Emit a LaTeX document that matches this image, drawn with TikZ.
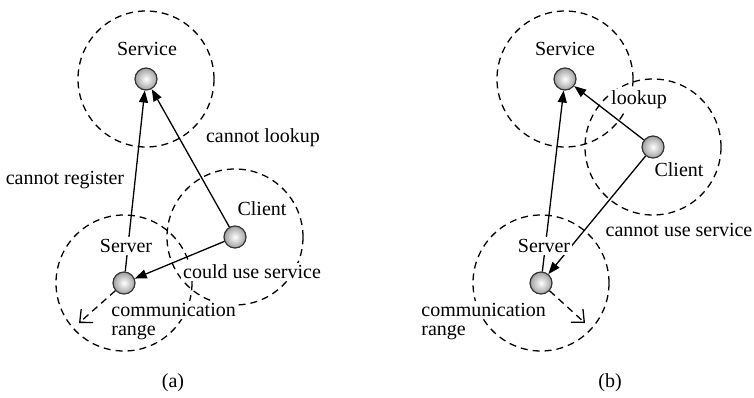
\documentclass[tikz,border=0pt]{standalone}
\usepackage{fontspec}
\setmainfont{Liberation Serif}
\usetikzlibrary{arrows.meta,shapes}

\tikzset{
	host/.style={circle,minimum size=11pt,inner sep=0pt,draw=black!80,line width=0.6pt,shading=radial,inner color=white,outer color=gray!75},
	reach/.style={dash pattern=on 3.5pt off 2.5pt,line width=0.65pt},
	msg/.style={line width=0.65pt,-{Triangle[length=6pt,width=4.5pt]}},
	lbl/.style={fill=white,inner sep=1pt,font=\fontsize{10}{11.5}\selectfont},
}

\begin{document}
\begin{tikzpicture}[x=0.5pt,y=-0.5pt]
			\useasboundingbox (0,0) rectangle (754,397);
			% (a) server out of range of the service
			\coordinate (svcA) at (146,79);
			\coordinate (srvA) at (124,283);
			\coordinate (cliA) at (235,237);
			\coordinate (endA) at (79,323);
			\draw[reach] (svcA) circle[radius=34pt];
			\draw[reach] (srvA) circle[radius=34pt];
			\draw[reach] (cliA) circle[radius=34pt];
			\node[host] (svcNodeA) at (svcA) {};
			\node[host] (srvNodeA) at (srvA) {};
			\node[host] (cliNodeA) at (cliA) {};
			\draw[msg] (srvNodeA) -- (svcNodeA);
			\draw[msg] (cliNodeA) -- (svcNodeA);
			\draw[msg] (cliNodeA) -- (srvNodeA);
			\draw[reach,-{Straight Barb[length=5pt,width=9pt]}] (srvNodeA) -- (endA);
			\node[lbl] (svcLblA) at (147,49) {Service};
			\node[lbl] (srvLblA) at (126,246) {Server};
			\node[lbl] (cliLblA) at (262,209) {Client};
			\node[lbl] (lookA) at (263,138) {cannot lookup};
			\node[lbl] (regA) at (65,180) {cannot register};
			\node[lbl] (useA) at (252,272) {could use service};
			\node[lbl,anchor=west] (rngA) at (109,310) {communication};
			\node[lbl,anchor=west] (rngA2) at (109,333) {range};
			\node[lbl] (capA) at (173,383) {(a)};

			% (b) client out of range of the server
			\coordinate (svcB) at (565,79);
			\coordinate (srvB) at (541,283);
			\coordinate (cliB) at (653,147);
			\coordinate (endB) at (585,323);
			\draw[reach] (svcB) circle[radius=34pt];
			\draw[reach] (srvB) circle[radius=34pt];
			\draw[reach] (cliB) circle[radius=34pt];
			\node[host] (svcNodeB) at (svcB) {};
			\node[host] (srvNodeB) at (srvB) {};
			\node[host] (cliNodeB) at (cliB) {};
			\draw[msg] (srvNodeB) -- (svcNodeB);
			\draw[msg] (cliNodeB) -- (svcNodeB);
			\draw[msg] (cliNodeB) -- (srvNodeB);
			\draw[reach,-{Straight Barb[length=5pt,width=9pt]}] (srvNodeB) -- (endB);
			\node[lbl] (svcLblB) at (565,49) {Service};
			\node[lbl] (srvLblB) at (544,246) {Server};
			\node[lbl] (cliLblB) at (679,170) {Client};
			\node[lbl] (lookB) at (639,100) {lookup};
			\node[lbl] (useB) at (679,230) {cannot use service};
			\node[lbl,anchor=west] (rngB) at (419,310) {communication};
			\node[lbl,anchor=west] (rngB2) at (419,333) {range};
			\node[lbl] (capB) at (610,383) {(b)};
		\end{tikzpicture}
\end{document}
